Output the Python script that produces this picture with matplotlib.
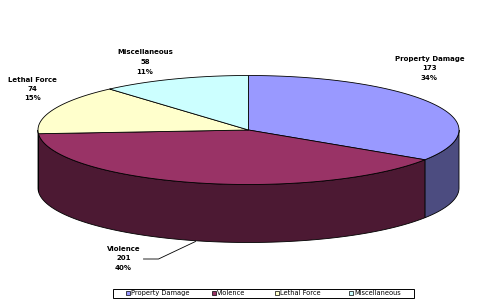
import matplotlib.pyplot as plt
import numpy as np
from matplotlib.patches import Polygon, Rectangle

# data
categories = ['Property Damage', 'Violence', 'Lethal Force', 'Miscellaneous']
counts = [173, 201, 74, 58]
top_colors = ['#9999FF', '#993366', '#FFFFCC', '#CCFFFF']
side_colors = ['#4C4C80', '#4C1933', '#80805F', '#5F8080']

# pie geometry in pixel coords (y down)
cx, cy = 248.5, 130.0
rx, ry = 210.5, 54.5
depth = 58.0

W, H = 498, 306
fig = plt.figure(figsize=(W / 100, H / 100), dpi=100)
ax = fig.add_axes([0, 0, 1, 1])
ax.set_xlim(0, W)
ax.set_ylim(H, 0)
ax.axis('off')


def rim(t_deg, dy=0.0):
    t = np.radians(t_deg)
    return np.column_stack([cx + rx * np.cos(t), cy - ry * np.sin(t) + dy])


total = float(sum(counts))
frac = np.array(counts) / total
bounds = 90 - 360 * np.concatenate([[0], np.cumsum(frac)])  # clockwise from 12 o'clock

# side walls (only the front half, sin(t) <= 0, is visible)
for i in range(len(counts)):
    start, end = bounds[i], bounds[i + 1]  # start > end
    for k in (-540, -180, 180):
        lo, hi = max(end, k), min(start, k + 180)
        if hi - lo <= 0:
            continue
        ts = np.linspace(lo, hi, 80)
        pts = np.vstack([rim(ts), rim(ts[::-1], depth)])
        ax.add_patch(Polygon(pts, closed=True, facecolor=side_colors[i],
                             edgecolor='black', linewidth=0.6, zorder=2))

# top face
for i in range(len(counts)):
    ts = np.linspace(bounds[i], bounds[i + 1], 120)
    pts = np.vstack([[cx, cy], rim(ts)])
    ax.add_patch(Polygon(pts, closed=True, facecolor=top_colors[i],
                         edgecolor='black', linewidth=0.6, zorder=3))

# data labels
lab_font = dict(family=['Liberation Sans Narrow', 'DejaVu Sans'], fontsize=5,
                fontweight='bold', ha='center', va='center', zorder=5)
label_pos = [(429.5, 58.5), (123.5, 249.0), (32.5, 79.5), (145.0, 52.5)]
for name, n, f, (lx, ly) in zip(categories, counts, frac, label_pos):
    for j, s in enumerate([name, str(n), f'{round(f * 100):.0f}%']):
        ax.text(lx, ly + j * 9.5, s, **lab_font)

# leader line for Violence
ax.plot([143.5, 158.5, 195.5], [259.0, 259.0, 241.5], color='black',
        linewidth=0.6, zorder=4)

# legend
ax.add_patch(Rectangle((112.5, 289.0), 301.0, 8.5, facecolor='white',
                       edgecolor='black', linewidth=0.7, zorder=4))
leg_x = [125.5, 211.5, 275.0, 348.5]
for name, c, lx in zip(categories, top_colors, leg_x):
    ax.add_patch(Rectangle((lx, 291.3), 4.0, 4.0, facecolor=c,
                           edgecolor='black', linewidth=0.5, zorder=5))
    ax.text(lx + 5.5, 293.4, name, family=['Liberation Sans Narrow', 'DejaVu Sans'],
            fontsize=4.8, ha='left', va='center', zorder=5)

fig.savefig('out.png', dpi=100)
